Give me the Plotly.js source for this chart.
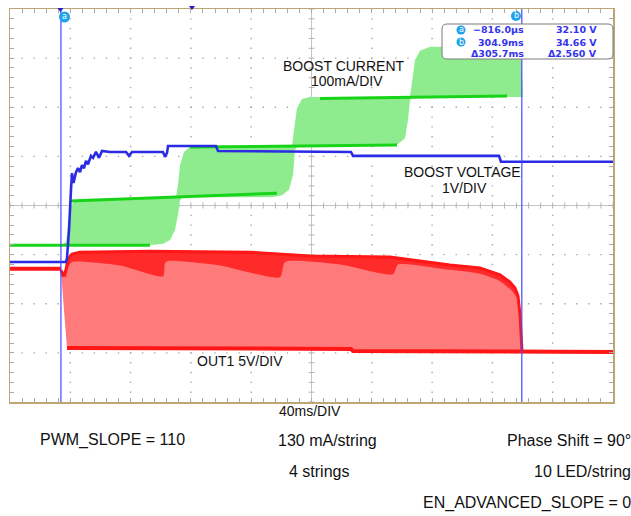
<!DOCTYPE html>
<html><head><meta charset="utf-8">
<script src="https://cdn.plot.ly/plotly-3.0.1.min.js"></script>
<style>html,body{margin:0;padding:0;background:#fff;}#chart{width:631px;height:516px;}</style>
</head><body><div id="chart"></div>
<script>
// ---- data: time in ms, signal levels in screen divisions ----
const boostVoltageT = [-34.6, 2.55, 3.21, 4.54, 5.86, 6.53, 7.52, 9.18, 10.51, 11.83, 13.16, 14.49, 15.81, 17.14, 19.13, 20.46, 22.45, 24.44, 26.43, 31.73, 42.35, 44.34, 46.33, 66.89, 68.22, 69.55, 70.21, 102.05, 103.38, 191.60, 192.93, 289.78, 291.10, 365.4];
const boostVoltageDiv = [2.85, 2.85, 2.93, 3.50, 4.32, 4.66, 4.46, 4.68, 4.76, 4.68, 4.82, 4.76, 4.91, 4.84, 5.01, 4.97, 5.09, 4.97, 5.11, 5.09, 5.09, 5.01, 5.09, 5.09, 4.99, 5.07, 5.21, 5.21, 5.11, 5.09, 5.01, 5.01, 4.89, 4.89];

const currentLowerT = [-34.6, 61.59, 66.89, 71.54, 74.85, 76.84, 78.17, 80.16, 139.20, 145.83, 150.47, 153.13, 154.45, 156.44, 214.16, 222.78, 227.42, 229.41, 230.74, 232.73, 305.70];
const currentLowerDiv = [3.20, 3.20, 3.22, 3.30, 3.50, 3.81, 4.11, 4.17, 4.17, 4.21, 4.32, 4.62, 5.13, 5.21, 5.21, 5.25, 5.37, 5.74, 6.15, 6.21, 6.21];
const currentUpperT = [-34.6, -0.11, 2.55, 3.87, 5.20, 7.85, 11.83, 75.52, 76.84, 78.17, 80.82, 84.80, 152.46, 153.79, 155.78, 159.10, 164.40, 230.74, 232.07, 234.06, 237.37, 244.01, 302.38, 304.37, 305.70];
const currentUpperDiv = [3.20, 3.20, 3.26, 3.60, 3.95, 4.09, 4.13, 4.17, 4.42, 4.82, 5.09, 5.19, 5.21, 5.54, 5.98, 6.17, 6.21, 6.21, 6.55, 6.96, 7.15, 7.23, 7.23, 7.06, 6.21];
const currentLineT = [-34.6, 58.27, null, 5.20, 142.51, null, 84.80, 222.12, null, 171.04, 295.08];
const currentLineDiv = [3.19, 3.19, null, 4.09, 4.25, null, 5.19, 5.23, null, 6.18, 6.23];

const out1UpperT = [-0.77, 0.56, 2.55, 3.87, 6.53, 11.83, 58.27, 124.60, 164.40, 217.47, 257.27, 277.17, 290.44, 297.07, 300.39, 302.38, 303.71, 304.37, 305.04];
const out1UpperDiv = [2.69, 2.56, 2.69, 2.91, 3.01, 3.05, 3.07, 3.05, 2.97, 2.95, 2.79, 2.73, 2.59, 2.44, 2.32, 2.16, 1.77, 1.26, 1.04];
const out1LowerT = [-0.77, -0.11, 1.22, 2.55, 3.21, 171.04, 191.60, 192.93, 305.04];
const out1LowerDiv = [2.69, 2.38, 1.87, 1.36, 1.10, 1.10, 1.08, 1.04, 1.04];
const out1DenseT = [2.55, 3.87, 6.53, 38.37, 66.89, 68.22, 70.21, 104.70, 144.50, 147.82, 184.31, 219.46, 222.78, 257.27, 277.17, 290.44, 298.40, 302.38, 303.71, 304.37, 305.04];
const out1DenseDiv = [2.52, 2.73, 2.85, 2.78, 2.56, 2.83, 2.87, 2.78, 2.54, 2.85, 2.80, 2.60, 2.80, 2.69, 2.61, 2.46, 2.26, 2.08, 1.75, 1.26, 1.04];
const out1LineT = [-34.6, -0.77, null, 3.21, 191.60, 192.93, 289.78, 291.10, 365.4];
const out1LineDiv = [2.71, 2.71, null, 1.10, 1.08, 1.04, 1.04, 1.02, 1.02];

const cursorA = -0.816;   // ms
const cursorB = 304.9;    // ms
const readoutLabels = ['a', 'b', ''];
const readoutTimes = ['\u2212816.0\u00b5s', '304.9ms', '\u0394305.7ms'];
const readoutVolts = ['32.10 V', '34.66 V', '\u03942.560 V'];

const channelLabels = ['BOOST CURRENT', '100mA/DIV', 'BOOST VOLTAGE', '1V/DIV', 'OUT1 5V/DIV'];
const timebaseLabel = '40ms/DIV';
const footnotes = ['PWM_SLOPE = 110', '130 mA/string', 'Phase Shift = 90\u00b0', '4 strings', '10 LED/string', 'EN_ADVANCED_SLOPE = 0'];

// ---- layout helpers ----
const PL = 10, PT = 9, PW = 603, PH = 393;
const XMIN = -34.6, XMAX = 365.4, XCEN = 165.4;
const px = x => (x - PL) / PW;
const py = y => (PT + PH - y) / PH;

const GREEN_FILL = '#8eec8e', GREEN_LINE = '#18d418';
const RED_FILL = '#ff7b7b', RED_LINE = '#ff1616';
const BLUE = '#2b2be6', CURSOR = '#4848ff';
const FONT = 'Liberation Sans, Arial, sans-serif';

const traces = [
  {x: currentLowerT, y: currentLowerDiv, mode: 'lines', line: {width: 0, color: GREEN_FILL}, hoverinfo: 'skip'},
  {x: currentUpperT, y: currentUpperDiv, mode: 'lines', fill: 'tonexty', fillcolor: GREEN_FILL, line: {width: 0, color: GREEN_FILL}, hoverinfo: 'skip'},
  {x: currentLineT, y: currentLineDiv, mode: 'lines', connectgaps: false, line: {width: 3, color: GREEN_LINE}},
  {x: out1LowerT, y: out1LowerDiv, mode: 'lines', line: {width: 0, color: RED_FILL}, hoverinfo: 'skip'},
  {x: out1UpperT, y: out1UpperDiv, mode: 'lines', fill: 'tonexty', fillcolor: RED_FILL, line: {width: 3, color: RED_LINE}},
  {x: out1DenseT, y: out1DenseDiv, mode: 'lines', fill: 'tonexty', fillcolor: 'rgba(255,28,28,0.85)', line: {width: 0, color: RED_LINE, shape: 'spline', smoothing: 0.6}},
  {x: out1LineT, y: out1LineDiv, mode: 'lines', connectgaps: false, line: {width: 4, color: RED_LINE}},
  {x: boostVoltageT, y: boostVoltageDiv, mode: 'lines', line: {width: 2.6, color: BLUE}}
];

const shapes = [];
// dotted graticule: one path per grid line, a short dash at every fifth of a division
const GRID = '#a6a6a6';
for (let i = 1; i < 10; i++) {
  if (i === 5) continue;
  const X = PL + i * PW / 10;
  let p = '';
  for (let k = 0; k <= 40; k++) {
    const Y = PT + k * PH / 40;
    p += `M${px(X)},${py(Y - 0.7)} L${px(X)},${py(Y + 0.7)} `;
  }
  shapes.push({type: 'path', xref: 'paper', yref: 'paper', path: p, line: {color: GRID, width: 1.4}, layer: 'below'});
}
for (let j = 1; j < 8; j++) {
  if (j === 4) continue;
  const Y = PT + j * PH / 8;
  let p = '';
  for (let k = 0; k <= 50; k++) {
    const X = PL + k * PW / 50;
    p += `M${px(X - 0.7)},${py(Y)} L${px(X + 0.7)},${py(Y)} `;
  }
  shapes.push({type: 'path', xref: 'paper', yref: 'paper', path: p, line: {color: GRID, width: 1.4}, layer: 'below'});
}
// center cross
shapes.push({type: 'line', xref: 'paper', yref: 'y', x0: 0, x1: 1, y0: 4, y1: 4, line: {color: '#c4c4c4', width: 1}, layer: 'below'});
shapes.push({type: 'line', xref: 'x', yref: 'paper', x0: XCEN, x1: XCEN, y0: 0, y1: 1, line: {color: '#c4c4c4', width: 1}, layer: 'below'});
for (let i = 0; i <= 50; i++) {
  const t = XMIN + i * 8;
  shapes.push({type: 'line', xref: 'x', yref: 'y', ysizemode: 'pixel', yanchor: 4, x0: t, x1: t, y0: -3, y1: 3, line: {color: '#b4b4b4', width: 1}, layer: 'below'});
}
for (let i = 0; i <= 40; i++) {
  const v = i * 0.2;
  shapes.push({type: 'line', xref: 'x', yref: 'y', xsizemode: 'pixel', xanchor: XCEN, x0: -3, x1: 3, y0: v, y1: v, line: {color: '#b4b4b4', width: 1}, layer: 'below'});
}
// cursors
shapes.push({type: 'line', xref: 'x', yref: 'paper', x0: cursorA, x1: cursorA, y0: 0, y1: 1, line: {color: CURSOR, width: 1.2}});
shapes.push({type: 'line', xref: 'x', yref: 'paper', x0: cursorB, x1: cursorB, y0: 0, y1: 1, line: {color: CURSOR, width: 1.2}});
// trigger markers at top
shapes.push({type: 'path', xref: 'paper', yref: 'paper', path: `M${px(57.5)},${py(8)} L${px(63.5)},${py(8)} L${px(60.5)},${py(12)} Z`, fillcolor: '#2020c0', line: {width: 0}});
shapes.push({type: 'path', xref: 'paper', yref: 'paper', path: `M${px(189)},${py(6)} L${px(195)},${py(6)} L${px(192)},${py(10)} Z`, fillcolor: '#2020c0', line: {width: 0}});
shapes.push({type: 'circle', xref: 'paper', yref: 'paper', x0: px(59), x1: px(70), y0: py(11.5), y1: py(22.5), fillcolor: '#1ea2e8', line: {width: 0}});
shapes.push({type: 'circle', xref: 'paper', yref: 'paper', x0: px(511), x1: px(521), y0: py(11), y1: py(21), fillcolor: '#1ea2e8', line: {width: 0}});
// cursor readout box (rounded)
(function () {
  const x0 = 442, x1 = 613, y0 = 24, y1 = 59, r = 5;
  const p = `M${px(x0 + r)},${py(y0)} L${px(x1 - r)},${py(y0)} Q${px(x1)},${py(y0)} ${px(x1)},${py(y0 + r)} ` +
    `L${px(x1)},${py(y1 - r)} Q${px(x1)},${py(y1)} ${px(x1 - r)},${py(y1)} L${px(x0 + r)},${py(y1)} ` +
    `Q${px(x0)},${py(y1)} ${px(x0)},${py(y1 - r)} L${px(x0)},${py(y0 + r)} Q${px(x0)},${py(y0)} ${px(x0 + r)},${py(y0)} Z`;
  shapes.push({type: 'path', xref: 'paper', yref: 'paper', path: p, fillcolor: '#ffffff', line: {color: '#7a7a7a', width: 1}});
})();
const rowY = [30, 42, 53];
readoutLabels.forEach((l, i) => {
  if (l) shapes.push({type: 'circle', xref: 'paper', yref: 'paper', x0: px(456.5), x1: px(465.5), y0: py(rowY[i] - 4.5), y1: py(rowY[i] + 4.5), fillcolor: '#1ea2e8', line: {width: 0}});
});

const ann = [];
const A = (text, x, y, opts = {}) => ann.push(Object.assign({
  text, x: px(x), y: py(y), xref: 'paper', yref: 'paper', showarrow: false,
  xanchor: 'center', yanchor: 'middle', font: {family: FONT, size: 14, color: '#111'}
}, opts));
A('a', 64.5, 17, {font: {family: 'DejaVu Sans, sans-serif', size: 8, color: '#fff'}});
A('b', 516, 16, {font: {family: 'DejaVu Sans, sans-serif', size: 8, color: '#fff'}});
const RO = {family: 'DejaVu Sans, sans-serif', size: 9.5, color: '#3434ee', weight: 'bold'};
readoutLabels.forEach((l, i) => {
  if (l) A(l, 461, rowY[i], {font: {family: 'DejaVu Sans, sans-serif', size: 8, color: '#fff'}});
  A(readoutTimes[i], 526, rowY[i], {xanchor: 'right', font: RO});
  A(readoutVolts[i], 599, rowY[i], {xanchor: 'right', font: RO});
});
A(channelLabels[0], 343.5, 65.5);
A(channelLabels[1], 347, 81.5);
A(channelLabels[2], 462.5, 172);
A(channelLabels[3], 464, 188);
A(channelLabels[4], 240, 360.5);
A(timebaseLabel, 310, 411);
const F16 = {family: FONT, size: 16, color: '#111'};
A(footnotes[0], 38, 440, {xanchor: 'left', font: F16});
A(footnotes[1], 327, 440, {font: F16});
A(footnotes[2], 633, 440, {xanchor: 'right', font: F16});
A(footnotes[3], 319, 471, {font: F16});
A(footnotes[4], 633, 471, {xanchor: 'right', font: F16});
A(footnotes[5], 633, 503, {xanchor: 'right', font: F16});

const layout = {
  width: 631, height: 516,
  margin: {l: PL, r: 631 - PL - PW, t: PT, b: 516 - PT - PH, pad: 0},
  paper_bgcolor: '#fff', plot_bgcolor: '#fff', showlegend: false,
  xaxis: {
    range: [XMIN, XMAX], tick0: XMIN, dtick: 40, showticklabels: false, zeroline: false, showgrid: false,
    showline: true, linecolor: '#bca676', linewidth: 1.5, mirror: 'ticks',
    ticks: 'inside', ticklen: 4, tickcolor: '#aaa', tickwidth: 1,
    minor: {dtick: 8, tick0: XMIN, ticks: 'inside', ticklen: 4, tickcolor: '#aaa', showgrid: false},
    fixedrange: true
  },
  yaxis: {
    range: [0, 8], dtick: 1, tick0: 0, showticklabels: false, zeroline: false, showgrid: false,
    showline: true, linecolor: '#bca676', linewidth: 1.5, mirror: 'ticks',
    ticks: 'inside', ticklen: 4, tickcolor: '#aaa', tickwidth: 1,
    minor: {dtick: 0.2, tick0: 0, ticks: 'inside', ticklen: 4, tickcolor: '#aaa', showgrid: false},
    fixedrange: true
  },
  shapes, annotations: ann
};
Plotly.newPlot('chart', traces, layout, {staticPlot: true, displayModeBar: false});
</script></body></html>
